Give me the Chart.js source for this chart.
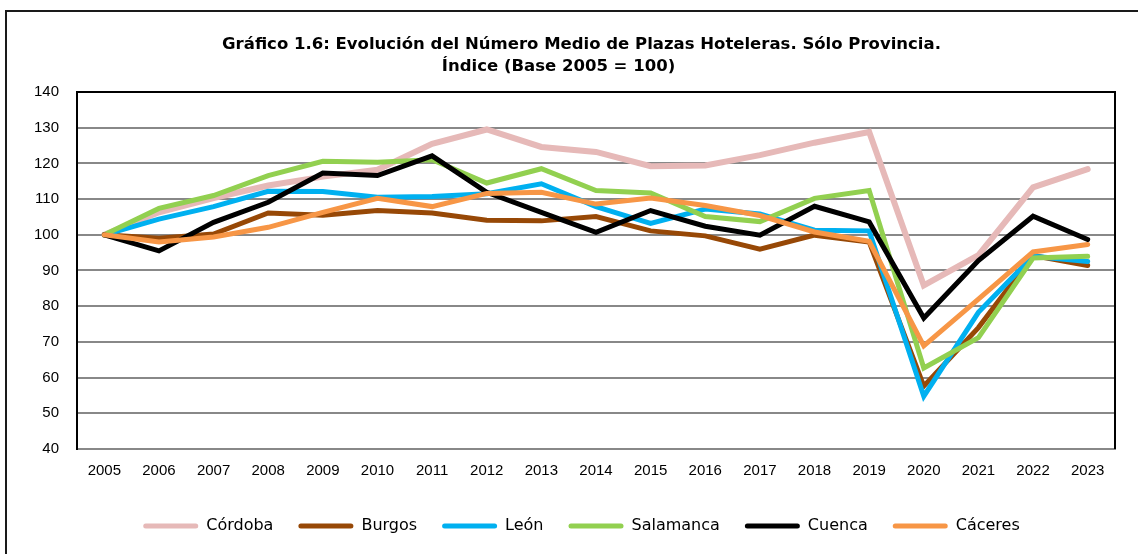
<!DOCTYPE html>
<html>
<head>
<meta charset="utf-8">
<script src="https://cdn.jsdelivr.net/npm/chart.js@4.4.1/dist/chart.umd.min.js"></script>
<style>
  html, body { margin: 0; padding: 0; background: #fff; overflow: hidden; }
  #frame { position: absolute; left: 5px; top: 10px; width: 2000px; height: 2000px;
           border-left: 2px solid #1a1a1a; border-top: 2px solid #1a1a1a; }
  #c { position: absolute; left: 0; top: 0; }
</style>
</head>
<body>
<div id="frame"></div>
<canvas id="c" width="1138" height="554"></canvas>
<script>
const titleLines = [
  "Gráfico 1.6: Evolución del Número Medio de Plazas Hoteleras. Sólo Provincia.",
  "Índice (Base 2005 = 100)\u00a0\u00a0\u00a0\u00a0\u00a0\u00a0\u00a0\u00a0"
];
const years = ["2005","2006","2007","2008","2009","2010","2011","2012","2013","2014",
               "2015","2016","2017","2018","2019","2020","2021","2022","2023"];
const yTicks = [40, 50, 60, 70, 80, 90, 100, 110, 120, 130, 140];

const seriesNames = ["Córdoba", "Burgos", "León", "Salamanca", "Cuenca", "Cáceres"];
const cordoba   = [100, 106.3, 110.3, 113.8, 116.3, 118.2, 125.5, 129.5, 124.6, 123.2, 119.2, 119.4, 122.3, 125.8, 128.8, 85.8, 94.3, 113.3, 118.4];
const burgos    = [100, 99.0, 100.2, 106.1, 105.5, 106.8, 106.1, 104.1, 103.9, 105.1, 101.1, 99.7, 96.0, 99.9, 98.0, 57.6, 74.0, 94.2, 91.4];
const leon      = [100, 104.4, 107.9, 112.2, 112.1, 110.5, 110.7, 111.5, 114.3, 107.9, 103.2, 107.2, 105.8, 101.3, 101.1, 54.8, 78.3, 94.0, 92.5];
const salamanca = [100, 107.4, 111.0, 116.6, 120.6, 120.3, 121.0, 114.5, 118.5, 112.4, 111.7, 105.1, 103.7, 110.2, 112.4, 62.7, 71.2, 93.5, 94.0];
const cuenca    = [100, 95.5, 103.5, 109.1, 117.3, 116.6, 122.1, 111.9, 106.3, 100.7, 106.8, 102.4, 99.9, 108.0, 103.6, 76.7, 92.8, 105.2, 98.7];
const caceres   = [100, 98.0, 99.4, 102.1, 106.3, 110.2, 107.9, 111.6, 111.9, 108.6, 110.3, 108.2, 105.4, 100.8, 98.2, 68.9, 82.0, 95.2, 97.3];

const seriesValues = [cordoba, burgos, leon, salamanca, cuenca, caceres];
const seriesColors = ["#E6B9B8", "#974806", "#00B0F0", "#92D050", "#000000", "#F79646"];
const seriesWidths = [6, 5, 5, 5, 5, 5];

const datasets = seriesNames.map((name, i) => ({
  label: name,
  data: seriesValues[i],
  borderColor: seriesColors[i],
  backgroundColor: seriesColors[i],
  borderWidth: seriesWidths[i],
  pointRadius: 0,
  pointHoverRadius: 0,
  tension: 0,
  borderJoinStyle: 'miter',
  borderCapStyle: 'round',
  order: seriesNames.length - i
}));

const framePlugin = {
  id: 'frameLines',
  beforeDatasetsDraw(chart) {
    const {ctx, chartArea: a} = chart;
    ctx.save();
    ctx.strokeStyle = '#000';
    ctx.lineWidth = 2;
    ctx.beginPath();
    ctx.moveTo(a.right, a.top - 1);
    ctx.lineTo(a.right, a.bottom);
    ctx.stroke();
    ctx.restore();
  }
};

const tickFont = { family: "'Liberation Sans', Arial, sans-serif", size: 15 };

new Chart(document.getElementById('c'), {
  type: 'line',
  data: { labels: years, datasets },
  plugins: [framePlugin],
  options: {
    responsive: false,
    animation: false,
    events: [],
    layout: { padding: { left: 48, right: 23, top: 34, bottom: 10 } },
    plugins: {
      tooltip: { enabled: false },
      title: {
        display: true,
        text: titleLines,
        color: '#000',
        font: { family: 'DejaVu Sans', size: 16.5, weight: 'bold', lineHeight: 1.333 },
        padding: { top: 0, bottom: 14 }
      },
      legend: {
        position: 'bottom',
        labels: {
          boxWidth: 55,
          boxHeight: 5,
          padding: 25,
          color: '#000',
          font: { family: 'DejaVu Sans', size: 16 },
          sort: (a, b) => a.datasetIndex - b.datasetIndex,
          generateLabels(chart) {
            const items = Chart.defaults.plugins.legend.labels.generateLabels(chart);
            return items.map(it => Object.assign(it, {
              fillStyle: seriesColors[it.datasetIndex],
              strokeStyle: seriesColors[it.datasetIndex],
              lineWidth: 0,
              borderRadius: 2.5
            }));
          }
        }
      }
    },
    scales: {
      x: {
        offset: true,
        grid: { display: false, drawTicks: false },
        border: { color: '#888', width: 2 },
        ticks: {
          color: '#000',
          font: tickFont,
          padding: 13,
          maxRotation: 0,
          autoSkip: false
        },
        afterFit(s) { s.height = 44; }
      },
      y: {
        min: yTicks[0],
        max: yTicks[yTicks.length - 1],
        afterBuildTicks(s) { s.ticks = yTicks.map(v => ({ value: v })); },
        grid: {
          drawTicks: false,
          lineWidth: 2,
          color: c => (c.tick && c.tick.value === yTicks[yTicks.length - 1]) ? '#000' : '#888'
        },
        border: { color: '#000', width: 2 },
        ticks: {
          color: '#000',
          font: tickFont,
          padding: 18
        },
        afterFit(s) {
          s.width = 29;
          s._computeLabelArea = () => undefined;
        }
      }
    }
  }
});
</script>
</body>
</html>
